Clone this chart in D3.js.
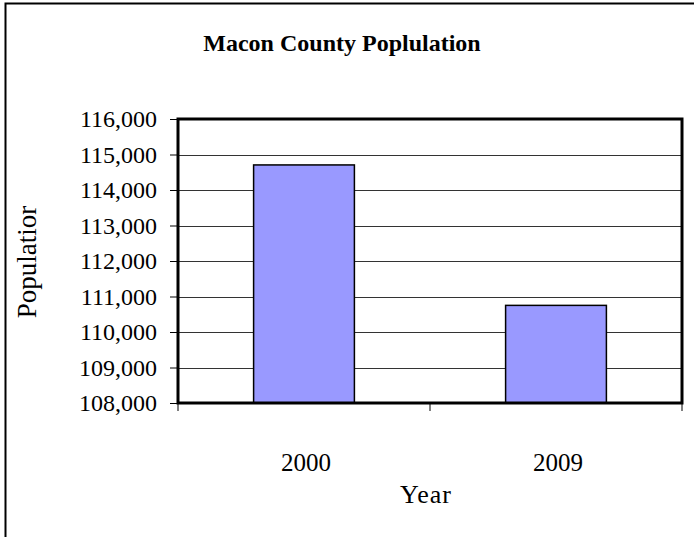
<!DOCTYPE html>
<html><head><meta charset="utf-8">
<script src="https://cdn.jsdelivr.net/npm/d3@7"></script>
<style>body{margin:0;background:#fff}svg{display:block}text{font-family:"Liberation Serif","Times New Roman",serif !important;fill:#000}</style>
</head><body>
<script>
const categories = ["2000", "2009"];
const population = [114706, 110750];
const yTicks = [108000, 109000, 110000, 111000, 112000, 113000, 114000, 115000, 116000];
const title = "Macon County Poplulation";
const xTitle = "Year";
const yTitle = "Populatior";

const W = 694, H = 537;
const m = {left: 178, right: 682, top: 119, bottom: 403};
const svg = d3.select("body").append("svg").attr("width", W).attr("height", H);

svg.append("rect").attr("x", 5.5).attr("y", 3.5).attr("width", 700).attr("height", 600)
  .attr("fill", "#fff").attr("stroke", "#000").attr("stroke-width", 2);

const x = d3.scaleBand().domain(categories).range([m.left, m.right]).paddingInner(0.6).paddingOuter(0.3);
const y = d3.scaleLinear().domain([108000, 116000]).range([m.bottom, m.top]);

// gridlines
svg.append("g").selectAll("line").data(yTicks).join("line")
  .attr("x1", m.left).attr("x2", m.right)
  .attr("y1", d => Math.round(y(d)) + 0.5).attr("y2", d => Math.round(y(d)) + 0.5)
  .attr("stroke", "#333").attr("stroke-width", 1);

// bars
svg.append("g").selectAll("rect").data(categories).join("rect")
  .attr("x", d => x(d)).attr("width", x.bandwidth())
  .attr("y", (d, i) => y(population[i])).attr("height", (d, i) => m.bottom - y(population[i]))
  .attr("fill", "#9999ff").attr("stroke", "#000").attr("stroke-width", 1.5);

// y axis
const yAxis = d3.axisLeft(y).tickValues(yTicks).tickFormat(d3.format(",")).tickSize(8).tickPadding(13);
const gy = svg.append("g").attr("transform", `translate(${m.left},0)`).call(yAxis)
  .attr("font-family", '"Liberation Serif",serif').attr("font-size", 24);
gy.select(".domain").remove();
gy.selectAll("line").attr("stroke", "#000");
gy.selectAll("text").attr("font-size", 24);

// x axis ticks at category boundaries
const xb = d3.scaleLinear().domain([0, categories.length]).range([m.left, m.right]);
svg.append("g").selectAll("line").data(d3.range(categories.length + 1)).join("line")
  .attr("x1", d => xb(d)).attr("x2", d => xb(d)).attr("y1", m.bottom).attr("y2", m.bottom + 8)
  .attr("stroke", "#000");
svg.append("g").selectAll("text").data(categories).join("text")
  .attr("x", d => x(d) + x.bandwidth() / 2 + 2).attr("y", 471)
  .attr("text-anchor", "middle").attr("font-size", 25).text(d => d);

// plot border
svg.append("rect").attr("x", m.left).attr("y", m.top).attr("width", m.right - m.left).attr("height", m.bottom - m.top)
  .attr("fill", "none").attr("stroke", "#000").attr("stroke-width", 3);

svg.append("text").attr("x", 342).attr("y", 51).attr("text-anchor", "middle")
  .attr("font-size", 24).attr("font-weight", "bold").text(title);
svg.append("text").attr("x", 426).attr("y", 503).attr("text-anchor", "middle")
  .attr("font-size", 26).attr("letter-spacing", 1).text(xTitle);
svg.append("text").attr("transform", "translate(36,262) rotate(-90)").attr("text-anchor", "middle")
  .attr("font-size", 27).text(yTitle);
</script>
</body></html>
